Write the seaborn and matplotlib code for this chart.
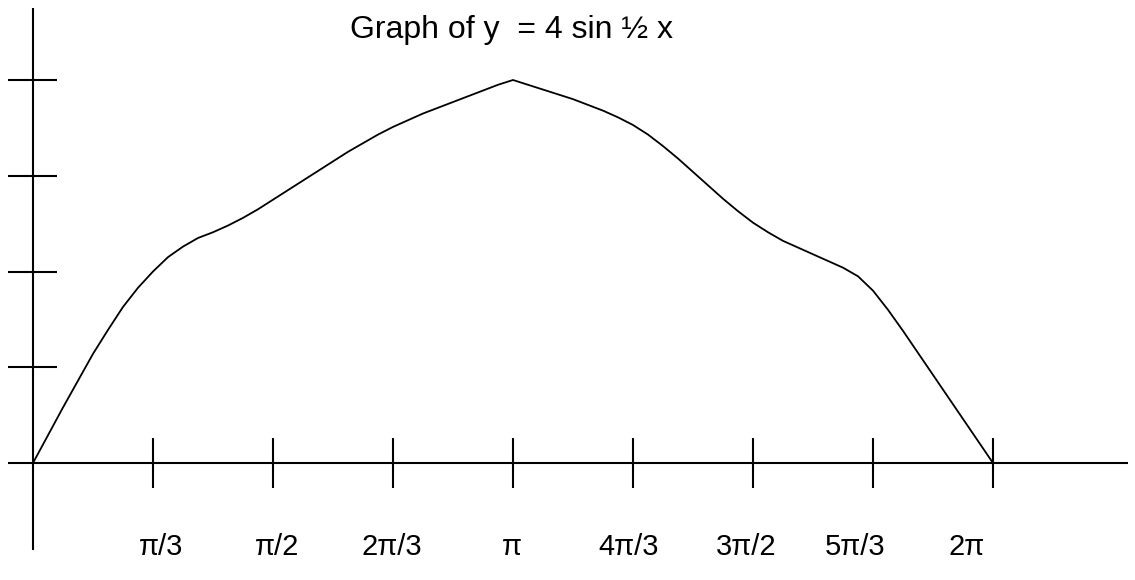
import numpy as np
import pandas as pd
import matplotlib
matplotlib.use("Agg")
import matplotlib.pyplot as plt
import seaborn as sns

# ---- data ----
tick_labels = ["\u03c0/3", "\u03c0/2", "2\u03c0/3", "\u03c0", "4\u03c0/3", "3\u03c0/2", "5\u03c0/3", "2\u03c0"]
tick_pos = [1, 2, 3, 4, 5, 6, 7, 8]          # evenly spaced tick slots along the x axis
y_ticks = [1, 2, 3, 4]

# curve samples, every 1/8 of a tick slot
curve_x = list(np.arange(0, 65) / 8.0)
curve_y = [0.00, 0.29, 0.58, 0.86, 1.14, 1.39, 1.63, 1.83, 2.00, 2.15, 2.26, 2.35, 2.41, 2.48, 2.56, 2.65, 2.75,
           2.85, 2.95, 3.05, 3.15, 3.25, 3.34, 3.43, 3.51, 3.58, 3.65, 3.71, 3.77, 3.83, 3.89, 3.95, 4.00,
           3.95, 3.90, 3.85, 3.80, 3.74, 3.68, 3.61, 3.53, 3.43, 3.31, 3.18, 3.04, 2.90, 2.76, 2.63, 2.51,
           2.41, 2.32, 2.25, 2.18, 2.11, 2.04, 1.95, 1.80, 1.60, 1.38, 1.15, 0.92, 0.69, 0.46, 0.23, 0.00]

title = "Graph of y  = 4 sin \u00bd x"

# ---- layout ----
sns.set_theme(style="white")
plt.rcParams["font.family"] = ["Liberation Sans", "DejaVu Sans"]

W, H = 1135, 580
fig = plt.figure(figsize=(W / 100, H / 100), dpi=100)
ax = fig.add_axes([0, 0, 1, 1])
ax.set_axis_off()

X0, XS = 33, 120.0      # pixel of origin and pixels per slot
Y0, YS = 463, 95.75     # pixel of y=0 and pixels per unit


def px2x(px):
    return (px - X0) / XS


def py2y(py):
    return (Y0 - py) / YS


ax.set_xlim(px2x(0), px2x(W))
ax.set_ylim(py2y(H), py2y(0))

axis_lw = 1.5
# axes lines
ax.plot([px2x(8), px2x(1128)], [0, 0], color="black", lw=axis_lw, solid_capstyle="butt")
ax.plot([0, 0], [py2y(550), py2y(8)], color="black", lw=axis_lw, solid_capstyle="butt")

# x tick marks
for t in tick_pos:
    ax.plot([t, t], [py2y(438), py2y(488)], color="black", lw=axis_lw, solid_capstyle="butt")
# y tick marks
for v in y_ticks:
    ax.plot([px2x(8), px2x(57)], [v, v], color="black", lw=axis_lw, solid_capstyle="butt")

# curve
df = pd.DataFrame({"x": curve_x, "y": curve_y})
sns.lineplot(data=df, x="x", y="y", ax=ax, color="black", lw=1.3, sort=False, estimator=None)
ax.set_axis_off()

# tick labels (placed by hand in the reference, slightly off the ticks)
label_offset_px = [8.5, 4, -1, -1, -4.3, -7, -18.3, -26]
for t, lab, off in zip(tick_pos, tick_labels, label_offset_px):
    ax.text(t + off / XS, py2y(555), lab, ha="center", va="baseline", fontsize=21, color="black")

ax.text(px2x(512), py2y(37.7), title, ha="center", va="baseline", fontsize=23, color="black")

fig.savefig("out.png", dpi=100, facecolor="white")
